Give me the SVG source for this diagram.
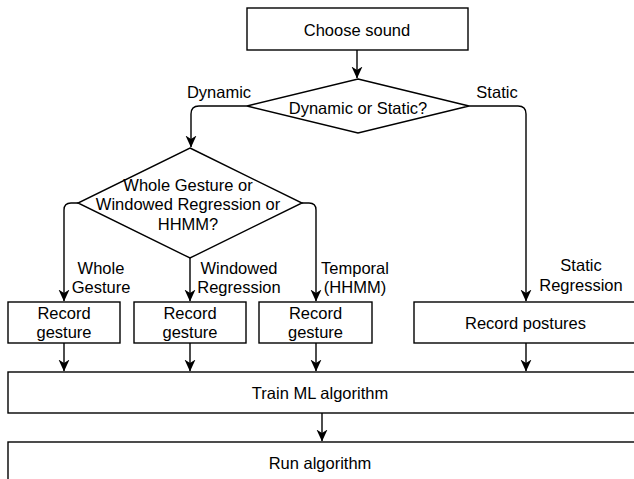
<svg xmlns="http://www.w3.org/2000/svg" width="634" height="479" viewBox="0 0 634 479">
<style>
.n{fill:#fff;stroke:#000;stroke-width:1.4}
.t{font-family:"Liberation Sans",Arial,sans-serif;font-size:16.5px;fill:#000;text-anchor:middle}
.c{fill:none;stroke:#000;stroke-width:1.4}
</style>
<defs>
<marker id="a" markerUnits="userSpaceOnUse" markerWidth="12" markerHeight="12" viewBox="0 0 12 12" refX="11.5" refY="6" orient="auto">
<path d="M0,0.5 L12,6 L0,11.5 L3.5,6 z" fill="#000"/>
</marker>
</defs>
<rect width="634" height="479" fill="#fff"/>
<g id="connectors">
<path class="c" d="M357,50 V78" marker-end="url(#a)"/>
<path class="c" d="M247,106 H199 Q191,106 191,114 V147" marker-end="url(#a)"/>
<path class="c" d="M469,106 H518 Q526,106 526,114 V301" marker-end="url(#a)"/>
<path class="c" d="M78,203 H71 Q64,203 64,210 V301" marker-end="url(#a)"/>
<path class="c" d="M190,258 V301" marker-end="url(#a)"/>
<path class="c" d="M302,203 H309 Q316,203 316,210 V301" marker-end="url(#a)"/>
<path class="c" d="M64,343 V371" marker-end="url(#a)"/>
<path class="c" d="M190,343 V371" marker-end="url(#a)"/>
<path class="c" d="M316,343 V371" marker-end="url(#a)"/>
<path class="c" d="M526,343 V371" marker-end="url(#a)"/>
<path class="c" d="M322,413 V441" marker-end="url(#a)"/>
<text class="t" x="219" y="98">Dynamic</text>
<text class="t" x="497" y="98">Static</text>
<text class="t" x="101" y="273.5">Whole</text>
<text class="t" x="101" y="293">Gesture</text>
<text class="t" x="239" y="273.5">Windowed</text>
<text class="t" x="239" y="293">Regression</text>
<text class="t" x="355" y="273.5">Temporal</text>
<text class="t" x="355" y="293">(HHMM)</text>
<text class="t" x="581" y="271">Static</text>
<text class="t" x="581" y="290.5">Regression</text>
</g>
<g id="choose">
<rect class="n" x="247" y="8" width="221" height="42"/>
<text class="t" x="357" y="36">Choose sound</text>
</g>
<g id="dynstat">
<polygon class="n" points="358,79 469,106 358,133 247,106"/>
<text class="t" x="358" y="114">Dynamic or Static?</text>
</g>
<g id="which">
<polygon class="n" points="190,148 302,203 190,258 78,203"/>
<text class="t" x="188" y="190.5">Whole Gesture or</text>
<text class="t" x="188" y="210">Windowed Regression or</text>
<text class="t" x="188" y="229.5">HHMM?</text>
</g>
<g id="rec1">
<rect class="n" x="8" y="302" width="112" height="41"/>
<text class="t" x="64" y="318.5">Record</text>
<text class="t" x="64" y="338">gesture</text>
</g>
<g id="rec2">
<rect class="n" x="134" y="302" width="112" height="41"/>
<text class="t" x="190" y="318.5">Record</text>
<text class="t" x="190" y="338">gesture</text>
</g>
<g id="rec3">
<rect class="n" x="259" y="302" width="113" height="41"/>
<text class="t" x="315.5" y="318.5">Record</text>
<text class="t" x="315.5" y="338">gesture</text>
</g>
<g id="postures">
<rect class="n" x="414" y="302" width="223" height="41"/>
<text class="t" x="525.5" y="328.5">Record postures</text>
</g>
<g id="train">
<rect class="n" x="8" y="372" width="629" height="41"/>
<text class="t" x="320" y="398.5">Train ML algorithm</text>
</g>
<g id="run">
<rect class="n" x="8" y="442" width="629" height="41"/>
<text class="t" x="320" y="468.5">Run algorithm</text>
</g>
</svg>
